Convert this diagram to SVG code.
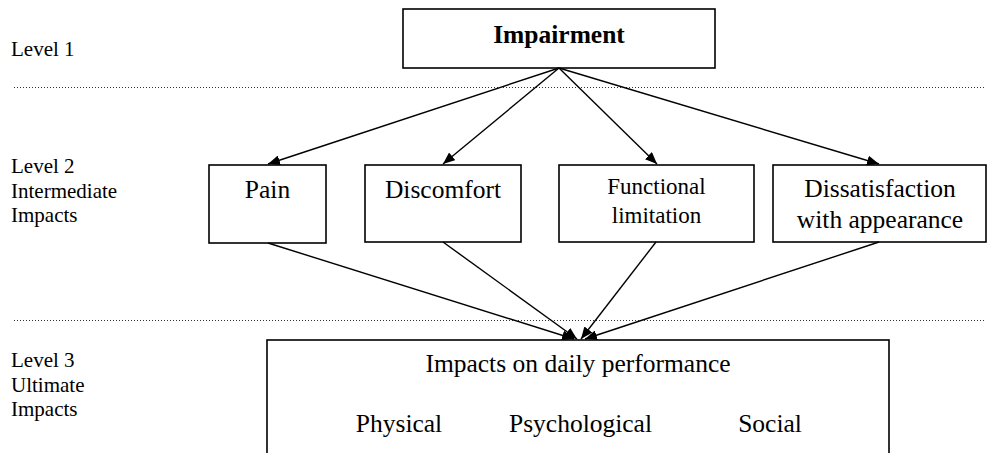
<svg xmlns="http://www.w3.org/2000/svg" width="988" height="453" viewBox="0 0 988 453">
  <defs>
    <marker id="arrow" markerUnits="userSpaceOnUse" markerWidth="13" markerHeight="10" refX="12" refY="5" orient="auto">
      <path d="M0,0 L12,5 L0,10 z" fill="#000"/>
    </marker>
    <style>
      .box { fill: #fff; stroke: #000; stroke-width: 1.6; }
      .lbl { font-size: 21px; fill: #000; }
      .t { font-size: 25.5px; fill: #000; text-anchor: middle; }
      .ts { font-size: 23px; fill: #000; text-anchor: middle; }
      .dot { stroke: #333; stroke-width: 1; stroke-dasharray: 1 2; fill: none; }
      .conn line { stroke: #000; stroke-width: 1.4; marker-end: url(#arrow); }
    </style>
  </defs>
  <rect width="988" height="453" fill="#fff"/>

  <g font-family="Liberation Serif, Tinos, Times New Roman, Times, DejaVu Serif, serif">
  <g id="level-labels">
    <text class="lbl" x="11" y="56">Level 1</text>
    <text class="lbl" x="11" y="173">Level 2</text>
    <text class="lbl" x="11" y="197.5">Intermediate</text>
    <text class="lbl" x="11" y="222">Impacts</text>
    <text class="lbl" x="11" y="367">Level 3</text>
    <text class="lbl" x="11" y="391.5">Ultimate</text>
    <text class="lbl" x="11" y="416">Impacts</text>
  </g>

  <g id="dividers">
    <line class="dot" x1="14" y1="87.5" x2="985" y2="87.5"/>
    <line class="dot" x1="14" y1="320.5" x2="985" y2="320.5"/>
  </g>

  <g id="impairment">
    <rect class="box" x="403" y="9" width="312" height="59"/>
    <text class="t" x="559" y="43" font-weight="bold">Impairment</text>
  </g>

  <g id="pain">
    <rect class="box" x="209" y="165" width="117" height="78"/>
    <text class="t" x="267.5" y="198">Pain</text>
  </g>

  <g id="discomfort">
    <rect class="box" x="365" y="165" width="156" height="77"/>
    <text class="t" x="443" y="198">Discomfort</text>
  </g>

  <g id="functional">
    <rect class="box" x="559" y="165" width="195" height="77"/>
    <text class="ts" x="656.5" y="194">Functional</text>
    <text class="ts" x="656.5" y="223">limitation</text>
  </g>

  <g id="dissatisfaction">
    <rect class="box" x="773" y="165" width="213" height="77"/>
    <text class="t" x="880" y="197">Dissatisfaction</text>
    <text class="t" x="880" y="228">with appearance</text>
  </g>

  <g id="daily-performance">
    <rect class="box" x="267" y="340" width="622" height="130"/>
    <text class="t" x="578" y="372">Impacts on daily performance</text>
    <text class="t" x="399" y="432">Physical</text>
    <text class="t" x="580.5" y="432">Psychological</text>
    <text class="t" x="770" y="432">Social</text>
  </g>
  </g>

  <g id="connectors" class="conn">
    <line x1="559" y1="68" x2="268" y2="164"/>
    <line x1="559" y1="68" x2="443" y2="164"/>
    <line x1="559" y1="68" x2="657" y2="164"/>
    <line x1="559" y1="68" x2="879" y2="164"/>
    <line x1="268" y1="243" x2="574" y2="339"/>
    <line x1="443" y1="242" x2="577" y2="339"/>
    <line x1="656" y1="242" x2="581" y2="339"/>
    <line x1="879" y1="242" x2="585" y2="339"/>
  </g>
</svg>
